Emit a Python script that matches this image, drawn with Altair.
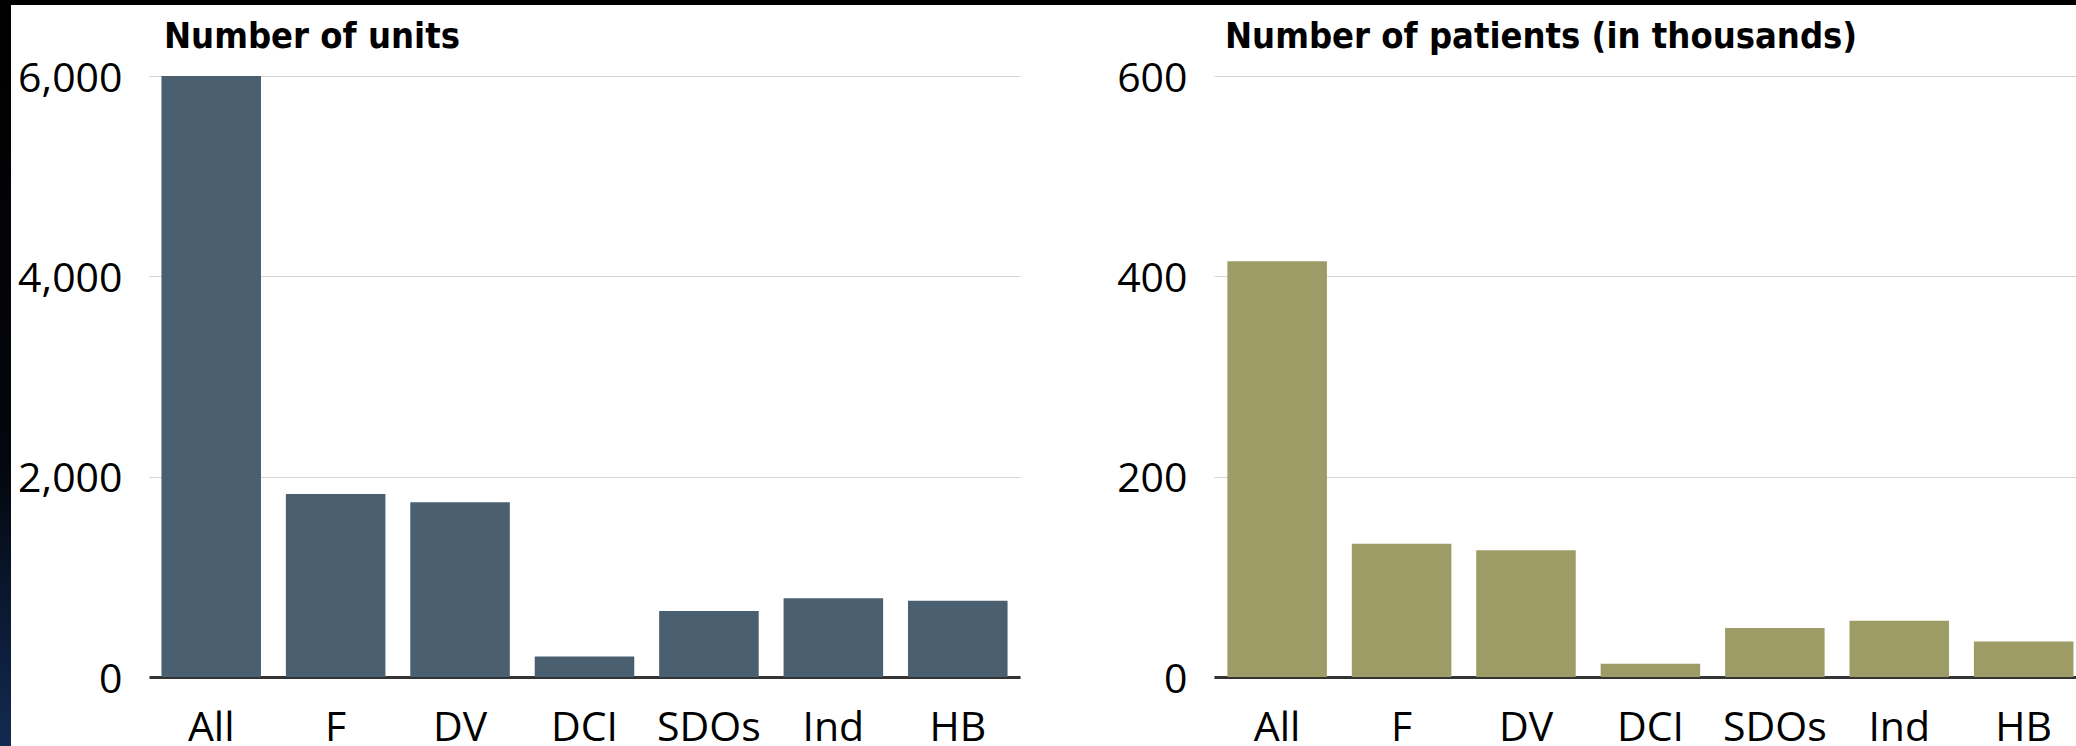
import altair as alt
import pandas as pd

# Category labels shared by both panels
categories = ["All", "F", "DV", "DCI", "SDOs", "Ind", "HB"]

# Number of units per category
units = [6000, 1828, 1744, 205, 660, 786, 762]

# Number of patients per category, in thousands
patients_thousands = [415, 133, 126.5, 13.3, 48.9, 56.1, 35.5]

# Tick values for each value axis
units_ticks = [0, 2000, 4000, 6000]
patients_ticks = [0, 200, 400, 600]

UNITS_COLOR = "#4a5f6f"
PATIENTS_COLOR = "#9e9c66"
LABEL_FONT = "Open Sans"
TITLE_FONT = "DejaVu Sans Condensed"
PLOT_HEIGHT = 601
TOP_GAP = 76      # space above each plot area, up to the page edge
EDGE_TOP = 5      # thickness of the dark band along the top
EDGE_LEFT = 11    # thickness of the dark band along the left

units_df = pd.DataFrame({"group": categories, "value": units})
patients_df = pd.DataFrame({"group": categories, "value": patients_thousands})
edge_df = pd.DataFrame({"edge": [0]})

LEFT_GRADIENT = alt.LinearGradient(
    gradient="linear",
    x1=0, x2=0, y1=0, y2=1,
    stops=[
        alt.GradientStop(offset=0, color="#000000"),
        alt.GradientStop(offset=0.62, color="#03060c"),
        alt.GradientStop(offset=0.85, color="#0c1c38"),
        alt.GradientStop(offset=1, color="#132a50"),
    ],
)


def bar_panel(df, color, domain, ticks, title, width, y_extent, title_dx,
              x_scale, left_band):
    bars = (
        alt.Chart(df)
        .mark_bar(color=color)
        .encode(
            x=alt.X(
                "group:N",
                sort=categories,
                scale=x_scale,
                axis=alt.Axis(
                    title=None,
                    labelAngle=0,
                    ticks=False,
                    domain=True,
                    domainColor="#333333",
                    domainWidth=3,
                    grid=False,
                    labelPadding=31,
                    minExtent=68,
                    maxExtent=68,
                ),
            ),
            y=alt.Y(
                "value:Q",
                scale=alt.Scale(domain=domain, nice=False, zero=True),
                axis=alt.Axis(
                    title=None,
                    values=ticks,
                    format=",d",
                    ticks=False,
                    domain=False,
                    grid=True,
                    gridColor="#d4d4d4",
                    gridWidth=1,
                    labelPadding=27,
                    labelOffset=3,
                    minExtent=y_extent,
                    maxExtent=y_extent,
                ),
            ),
        )
    )
    # dark band along the top edge of the page, above this panel
    top_band = (
        alt.Chart(edge_df)
        .mark_rect(color="#000000")
        .encode(
            x=alt.value(-y_extent if not left_band else -(y_extent + EDGE_LEFT)),
            x2=alt.value("width"),
            y=alt.value(-TOP_GAP),
            y2=alt.value(-TOP_GAP + EDGE_TOP),
        )
    )
    layers = [bars, top_band]
    if left_band:
        # dark band along the left edge of the page
        layers.append(
            alt.Chart(edge_df)
            .mark_rect(color=LEFT_GRADIENT)
            .encode(
                x=alt.value(-(y_extent + EDGE_LEFT)),
                x2=alt.value(-y_extent),
                y=alt.value(-TOP_GAP),
                y2=alt.value(746 - TOP_GAP),
            )
        )
    return alt.layer(*layers).properties(
        width=width,
        height=PLOT_HEIGHT,
        title=alt.TitleParams(
            title,
            anchor="start",
            frame="group",
            dx=title_dx,
            offset=-84,
            baseline="alphabetic",
            font=TITLE_FONT,
            fontWeight="bold",
            fontSize=36,
            color="black",
        ),
    )


units_chart = bar_panel(
    units_df, UNITS_COLOR, [0, 6000], units_ticks, "Number of units",
    871, 138, 15,
    alt.Scale(paddingInner=0.2, paddingOuter=0.1),
    True,
)
patients_chart = bar_panel(
    patients_df, PATIENTS_COLOR, [0, 600], patients_ticks,
    "Number of patients (in thousands)",
    862, 194, 11,
    alt.Scale(paddingInner=0.2, paddingOuter=0.064, align=0.84),
    False,
)

chart = (
    alt.hconcat(units_chart, patients_chart, spacing=0)
    .properties(padding=0, background="white")
    .configure_view(strokeWidth=0)
    .configure_axis(labelFont=LABEL_FONT, labelFontSize=41, labelColor="black")
)

chart.save("out.html", embed_options={"renderer": "svg", "actions": False})
